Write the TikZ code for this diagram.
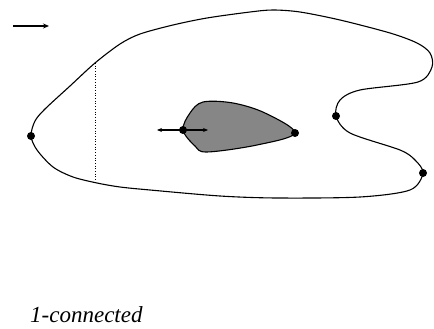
\documentclass[tikz,border=0pt]{standalone}
\usepackage{fontspec}
\setmainfont{Liberation Serif}
\usetikzlibrary{arrows.meta}
\tikzset{
  dotnode/.style={circle,fill=black,inner sep=0pt,minimum size=8pt},
  outline/.style={line width=1.1pt},
  arr/.style={line width=1.1pt,-{Stealth[length=6pt,width=5pt]}},
  darr/.style={line width=1.1pt,{Stealth[length=5pt,width=4pt]}-{Stealth[length=5pt,width=4pt]}},
}
\begin{document}
\begin{tikzpicture}[x=1pt,y=-1pt]
\useasboundingbox (0,0) rectangle (434,329);
% outer boundary
\draw[outline] plot[smooth cycle,tension=0.5] coordinates {
(31,136) (35,121) (45,109) (70,86) (95,63) (120,44) (140,34) (173,25)
(207,18) (250,12) (273,10) (300,12) (340,20) (390,33) (417,43) (430,53)
(432,67) (418,82) (360,90) (340,100) (336,116)
(350,133) (400,150) (415,160) (423,173) (410,190) (360,197) (277,198)
(220,196) (150,190) (120,187) (97,183) (73,177) (53,167) (37,150)};
% inner gray shape
\draw[outline,fill=gray!95] plot[smooth cycle,tension=0.55] coordinates {
(183,130) (190,113) (203,102) (233,103) (265,113) (295,133)
(257,145) (207,152) (195,146)};
% dots
\node[dotnode] (p1) at (31,136) {};
\node[dotnode] (p2) at (336,116) {};
\node[dotnode] (p3) at (423,173) {};
\node[dotnode] (p4) at (295,133) {};
\node[dotnode] (p5) at (183,130) {};
% dotted chord
\coordinate (dt) at (95,63);
\coordinate (db) at (95,183);
\draw[dotted,line width=0.7pt] (dt) -- (db);
% arrows
\coordinate (a1) at (13,26);
\coordinate (a2) at (49,26);
\draw[arr] (a1) -- (a2);
\coordinate (b1) at (157,130);
\coordinate (b2) at (208,130);
\draw[darr] (b1) -- (b2);
% label
\node[anchor=base west,inner sep=0pt,font=\fontsize{23}{26}\selectfont\itshape] (lbl) at (30,322) {1-connected};
\end{tikzpicture}
\end{document}
